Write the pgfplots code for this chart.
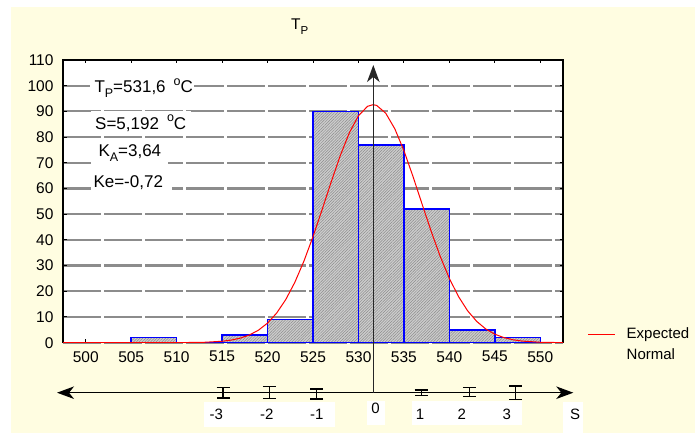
\documentclass[border=0pt]{standalone}
\usepackage{fontspec}
\setmainfont{Liberation Sans}
\usepackage{pgfplots}
\pgfplotsset{compat=1.18}
\usetikzlibrary{patterns.meta, arrows.meta}
\definecolor{bgyellow}{RGB}{255,253,225}
\definecolor{barblue}{RGB}{0,0,255}
\definecolor{gridgray}{RGB}{140,140,140}
\definecolor{hatchgray}{RGB}{140,140,140}
\definecolor{barfill}{RGB}{205,205,205}
\newcommand\sub[1]{\raisebox{-0.3em}{\fontsize{12.5}{12.5}\selectfont #1}}
\newcommand\degsign{\raisebox{0.45em}{\fontsize{12.5}{12.5}\selectfont o}}
\begin{document}
\begin{tikzpicture}[x=1pt,y=1pt]
\useasboundingbox (0,0) rectangle (695,433);
\fill[white] (0,0) rectangle (695,433);
\fill[bgyellow] (11,0) rectangle (695,425.5);
\begin{axis}[
  at={(63pt,90.3pt)}, anchor=south west,
  scale only axis, width=500pt, height=282.7pt,
  xmin=497.5, xmax=552.5, ymin=0, ymax=110,
  xtick={500,505,...,550}, ytick={0,10,...,110},
  axis background/.style={fill=white},
  axis line style={black, line width=1.6pt},
  tick style={black, line width=1pt},
  major tick length=3.5pt,
  tick align=inside,
  ymajorgrids,
  major grid style={gridgray, line width=2.2pt, dash pattern=on 38pt off 3pt},
  /pgf/number format/assume math mode=true,
  ticklabel style={font=\fontsize{15.5}{17}\selectfont},
  xticklabel style={yshift=-5pt},
  yticklabel style={xshift=-6pt},
]
\addplot[ybar interval, draw=barblue, line width=1.5pt,
  preaction={fill=barfill},
  pattern={Lines[angle=45,distance=2pt,line width=0.5pt]}, pattern color=hatchgray]
coordinates {(500,0) (505,2) (510,0) (515,3) (520,9) (525,90) (530,77) (535,52) (540,5) (545,2) (550,0)};
\addplot[red, line width=1pt, mark=none] coordinates {
(497.5,0) (505,0) (510,0.02) (513,0.15) (515,0.56) (516,1.01) (517,1.78) (518,3.00) (519,4.87) (520,7.63) (521,11.52) (522,16.76) (523,23.49) (524,31.72) (525,41.28) (526,51.76) (527,62.54) (528,72.81) (529,81.69) (530,88.30) (531,91.98) (531.6,92.6) (532,92.33) (533,89.29) (534,83.22) (535,74.73) (536,64.66) (537,53.91) (538,43.32) (539,33.53) (540,25.01) (541,17.98) (542,12.45) (543,8.31) (544,5.35) (545,3.31) (546,1.98) (547,1.14) (548,0.63) (550,0.17) (552.5,0.02)};
\end{axis}
% annotation boxes
\fill[white] (90,333) rectangle (194,359);
\fill[white] (90.5,297) rectangle (191,321.5);
\fill[white] (91,268) rectangle (168,295);
\fill[white] (91,241) rectangle (171.5,263);
\begin{scope}[every node/.style={inner sep=0pt, font=\fontsize{17}{19}\selectfont}]
\node[anchor=base west] at (94.3,340.3) {T\sub{P}=531,6\hspace{8pt}\degsign C};
\node[anchor=base west] at (95,303.7) {S=5,192\hspace{8pt}\degsign C};
\node[anchor=base west] at (98.3,276.3) {K\sub{A}=3,64};
\node[anchor=base west] at (93.3,245.7) {Ke=-0,72};
\end{scope}
% title
\node[inner sep=0pt, anchor=base west, font=\fontsize{15.5}{17}\selectfont] at (291,403) {T\raisebox{-0.3em}{\fontsize{11.5}{11.5}\selectfont P}};
% legend
\draw[red, line width=1pt] (588,98.7) -- (615,98.7);
\node[inner sep=0pt, anchor=base west, font=\fontsize{15}{17}\selectfont] at (626.5,94.7) {Expected};
\node[inner sep=0pt, anchor=base west, font=\fontsize{15}{17}\selectfont] at (626.5,73) {Normal};
% S axis
\draw[black, line width=1.3pt, -{Stealth[length=17pt,width=12.5pt,inset=5pt]}] (373.3,40.3) -- (57,40.3);
\draw[black, line width=1.3pt, -{Stealth[length=17pt,width=12.5pt,inset=5pt]}] (373.3,40.3) -- (573.3,40.3);
\begin{axis}[
  at={(63pt,30.3pt)}, anchor=south west,
  scale only axis, width=500pt, height=20pt,
  xmin=497.5, xmax=552.5, ymin=-10, ymax=10,
  hide axis, clip=false,
]
\addplot[black, only marks, mark=-, mark size=6.5pt, mark options={line width=1.2pt},
  error bars/.cd, y dir=both, y explicit, error mark=|,
  error mark options={black, mark size=6.5pt, line width=1.2pt},
  error bar style={draw=black, solid, line width=1.2pt}]
coordinates {
(515.1,0) += (0,5.3) -= (0,5.3)
(520.2,0) += (0,6) -= (0,6)
(525.4,0) += (0,3.7) -= (0,6.3)
(536.9,0) += (0,2.7) -= (0,3)
(542.2,0) += (0,5) -= (0,4)
(547.3,0) += (0,6.7) -= (0,6.6)
};
\end{axis}
\draw[black!85, line width=1.6pt, -{Stealth[length=17pt,width=12.5pt,inset=5pt]}] (373.3,40.3) -- (373.3,368);
% S labels
\fill[white] (204,5.7) rectangle (335,31.3);
\fill[white] (366.7,8) rectangle (385,32.3);
\fill[white] (411.7,8) rectangle (521.7,32.3);
\fill[white] (563.3,0) rectangle (583.3,31.3);
\begin{scope}[every node/.style={inner sep=0pt, anchor=base, font=\fontsize{15}{17}\selectfont}]
\node at (216.3,13.7) {-3};
\node at (266.7,13.7) {-2};
\node at (316.7,13.7) {-1};
\node at (375.5,19.7) {0};
\node at (420,13.7) {1};
\node at (461.7,13.7) {2};
\node at (506.7,13.7) {3};
\node at (575,13) {S};
\end{scope}
\end{tikzpicture}
\end{document}
